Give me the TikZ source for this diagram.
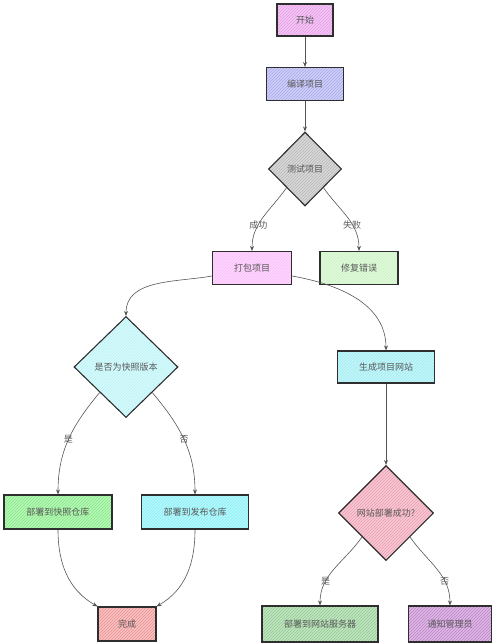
\documentclass[tikz,border=0pt]{standalone}
\usepackage{fontspec}
\newfontfamily\cjk{Noto Sans CJK SC}
\usetikzlibrary{shapes.geometric,patterns,arrows.meta}
\definecolor{cStart}{HTML}{E89AE8}
\definecolor{cCompile}{HTML}{A8A8EE}
\definecolor{cTest}{HTML}{B8B8B8}
\definecolor{cPack}{HTML}{FBB8FB}
\definecolor{cFix}{HTML}{C8F4C0}
\definecolor{cSnapQ}{HTML}{B8F4F8}
\definecolor{cSnapR}{HTML}{80EC80}
\definecolor{cRelR}{HTML}{80F0F8}
\definecolor{cDone}{HTML}{EE9090}
\definecolor{cSite}{HTML}{98ECF4}
\definecolor{cSiteQ}{HTML}{EE9CB0}
\definecolor{cServer}{HTML}{90CC90}
\definecolor{cNotify}{HTML}{C080CC}
\definecolor{cEdge}{HTML}{555555}
\definecolor{cBorder}{HTML}{2E2E2E}
\tikzset{
  hach/.style={preaction={fill=#1!55}, preaction={pattern=north east lines, pattern color=#1}},
  box/.style={rectangle, draw=cBorder, line width=1.1pt, inner sep=0pt, font=\cjk\fontsize{9}{11}\selectfont, text=black!65},
  dia/.style={diamond, draw=cBorder, line width=1.1pt, inner sep=0pt, font=\cjk\fontsize{9}{11}\selectfont, text=black!65},
  conn/.style={draw=cEdge, line width=0.6pt, -{Stealth[length=5pt,width=4pt]}},
  lbl/.style={font=\cjk\fontsize{9}{11}\selectfont, text=black!65, inner sep=0pt}
}
\begin{document}
\begin{tikzpicture}[x=1pt,y=-1pt]
\useasboundingbox (0,0) rectangle (500,643);
\node[box, hach=cStart, minimum width=56pt, minimum height=32pt] (start) at (305,20) {开始};
\node[box, hach=cCompile, minimum width=77pt, minimum height=33pt] (compile) at (305,84) {编译项目};
\node[dia, hach=cTest, minimum width=73pt, minimum height=74pt] (test) at (305,169) {测试项目};
\node[box, hach=cPack, minimum width=79pt, minimum height=33pt] (pack) at (252,268) {打包项目};
\node[box, hach=cFix, minimum width=78pt, minimum height=33pt] (fix) at (359,268) {修复错误};
\node[dia, hach=cSnapQ, minimum width=104pt, minimum height=101pt] (snapq) at (126,367) {是否为快照版本};
\node[box, hach=cSnapR, minimum width=108pt, minimum height=34pt] (snapr) at (58,512) {部署到快照仓库};
\node[box, hach=cRelR, minimum width=107pt, minimum height=34pt] (relr) at (195,512) {部署到发布仓库};
\node[box, hach=cDone, minimum width=58pt, minimum height=34pt] (done) at (127,624) {完成};
\node[box, hach=cSite, minimum width=97pt, minimum height=32pt] (site) at (386,367) {生成项目网站};
\node[dia, hach=cSiteQ, minimum width=95pt, minimum height=95pt] (siteq) at (386,513) {网站部署成功?};
\node[box, hach=cServer, minimum width=116pt, minimum height=36pt] (server) at (320,624) {部署到网站服务器};
\node[box, hach=cNotify, minimum width=83pt, minimum height=36pt] (notify) at (450,624) {通知管理员};

\draw[conn] (start) -- (compile);
\draw[conn] (compile) -- (test);
\draw[conn] (test.south west) to[out=-125,in=90] node[lbl,pos=0.63] {成功} (pack.north);
\draw[conn] (test.south east) to[out=-55,in=90] node[lbl,pos=0.63] {失败} (fix.north);
\draw[conn] ([yshift=-8pt]pack.west) to[out=190,in=90] (snapq.north);
\draw[conn] ([yshift=-8pt]pack.east) to[out=-10,in=90] (site.north);
\draw[conn] (snapq.south west) to[out=-130,in=90] node[lbl,pos=0.5] {是} (snapr.north);
\draw[conn] (snapq.south east) to[out=-50,in=90] node[lbl,pos=0.5] {否} (relr.north);
\draw[conn] (snapr.south) to[out=-90,in=150] (done.north west);
\draw[conn] (relr.south) to[out=-90,in=30] (done.north east);
\draw[conn] (site) -- (siteq);
\draw[conn] (siteq.south west) to[out=-125,in=90] node[lbl,pos=0.7] {是} (server.north);
\draw[conn] (siteq.south east) to[out=-55,in=90] node[lbl,pos=0.7] {否} (notify.north);
\end{tikzpicture}
\end{document}
